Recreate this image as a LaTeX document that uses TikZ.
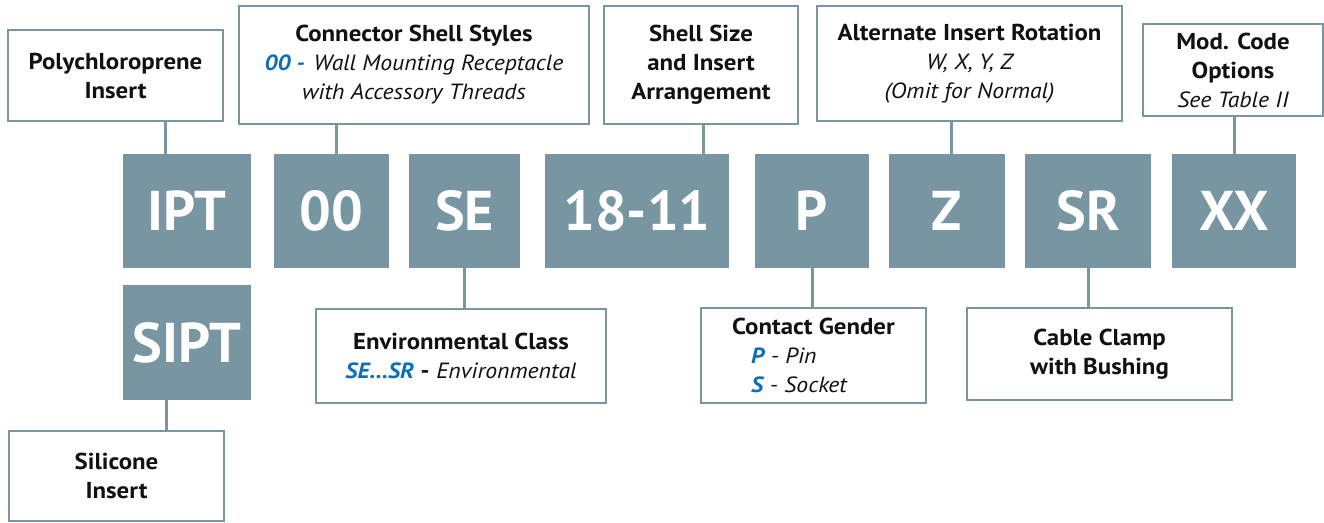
\documentclass[tikz,border=0pt]{standalone}
\usepackage{fontspec}
\setmainfont{PT Sans}
\newfontfamily\lblfont{PT Sans}[FakeStretch=1.08]
\usetikzlibrary{positioning}
\definecolor{iptSlate}{HTML}{7895A2}
\definecolor{iptBlue}{HTML}{0D6DB8}
\definecolor{iptInk}{HTML}{111111}
\newcommand{\itl}[1]{{\fontsize{22}{29}\selectfont\itshape #1}}

\begin{document}
\begin{tikzpicture}[x=1pt,y=-1pt,line cap=butt,line join=miter]
\useasboundingbox[fill=white] (0,0) rectangle (1324,522);
\tikzset{code/.style={fill=iptSlate,text=white,font=\fontsize{56}{60}\selectfont\bfseries,inner sep=0pt,minimum height=114},lbl/.style={draw=iptSlate,line width=2.6pt,fill=white,text=iptInk,align=center,inner sep=0pt,font=\lblfont\fontsize{23}{29}\selectfont},link/.style={draw=iptSlate,line width=3pt}}
% part number blocks
\node[code,minimum width=128] (ipt) at (187,211) {IPT};
\node[code,minimum width=115] (cls) at (331.5,211) {00};
\node[code,minimum width=111] (env) at (464.5,211) {SE};
\node[code,minimum width=184] (size) at (637,211) {18-11};
\node[code,minimum width=114] (gen) at (812,211) {P};
\node[code,minimum width=116] (rot) at (947,211) {Z};
\node[code,minimum width=126] (clamp) at (1088,211) {SR};
\node[code,minimum width=124] (mod) at (1234,211) {XX};
\node[code,minimum width=128,minimum height=115] (sipt) at (187,342.5) {SIPT};
% labels above
\node[lbl,minimum width=215,minimum height=91] (lPoly) at (115.5,75.5) {{\bfseries Polychloroprene}\\{\bfseries Insert}};
\node[lbl,minimum width=350,minimum height=118] (lShell) at (414,65) {{\bfseries Connector Shell Styles}\\{\color{iptBlue}\itl{\bfseries 00 -}}\hspace{9pt}\itl{Wall Mounting Receptacle}\\\itl{with Accessory Threads}};
\node[lbl,minimum width=194,minimum height=118] (lSize) at (701,65) {{\bfseries Shell Size}\\{\bfseries and Insert}\\{\bfseries Arrangement}};
\node[lbl,minimum width=305,minimum height=115] (lRot) at (969.5,63.5) {{\bfseries Alternate Insert Rotation}\\\itl{W, X, Y, Z}\\\itl{(Omit for Normal)}};
\node[lbl,minimum width=180,minimum height=92] (lMod) at (1233,70) {{\bfseries Mod. Code}\\{\bfseries Options}\\\itl{See Table II}};
% labels below
\node[lbl,minimum width=290,minimum height=94] (lEnv) at (461,356) {{\bfseries Environmental Class}\\{\color{iptBlue}\itl{\bfseries SE...SR}} {\bfseries -} \itl{Environmental}};
\node[lbl,align=left,minimum width=225,minimum height=95] (lGen) at (813.5,355.5) {{\bfseries Contact Gender}\\\hspace*{19pt}{\color{iptBlue}\itl{\bfseries P}} \itl{- Pin}\\\hspace*{19pt}{\color{iptBlue}\itl{\bfseries S}} \itl{- Socket}};
\node[lbl,minimum width=265,minimum height=92] (lClamp) at (1099.5,354) {{\bfseries Cable Clamp}\\{\bfseries with Bushing}};
\node[lbl,minimum width=215,minimum height=90] (lSil) at (116.5,476) {{\bfseries Silicone}\\{\bfseries Insert}};
% connectors
\draw[link] (lPoly.south -| 165,0) -- (ipt.north -| 165,0);
\draw[link] (lShell.south -| 336,0) -- (cls.north -| 336,0);
\draw[link] (lSize.south -| 703,0) -- (size.north -| 703,0);
\draw[link] (lRot.south -| 951,0) -- (rot.north -| 951,0);
\draw[link] (lMod.south -| mod.north) -- (mod.north);
\draw[link] (env.south) -- (env.south |- lEnv.north);
\draw[link] (gen.south) -- (gen.south |- lGen.north);
\draw[link] (clamp.south) -- (clamp.south |- lClamp.north);
\draw[link] (sipt.south -| 166,0) -- (lSil.north -| 166,0);
\end{tikzpicture}
\end{document}
